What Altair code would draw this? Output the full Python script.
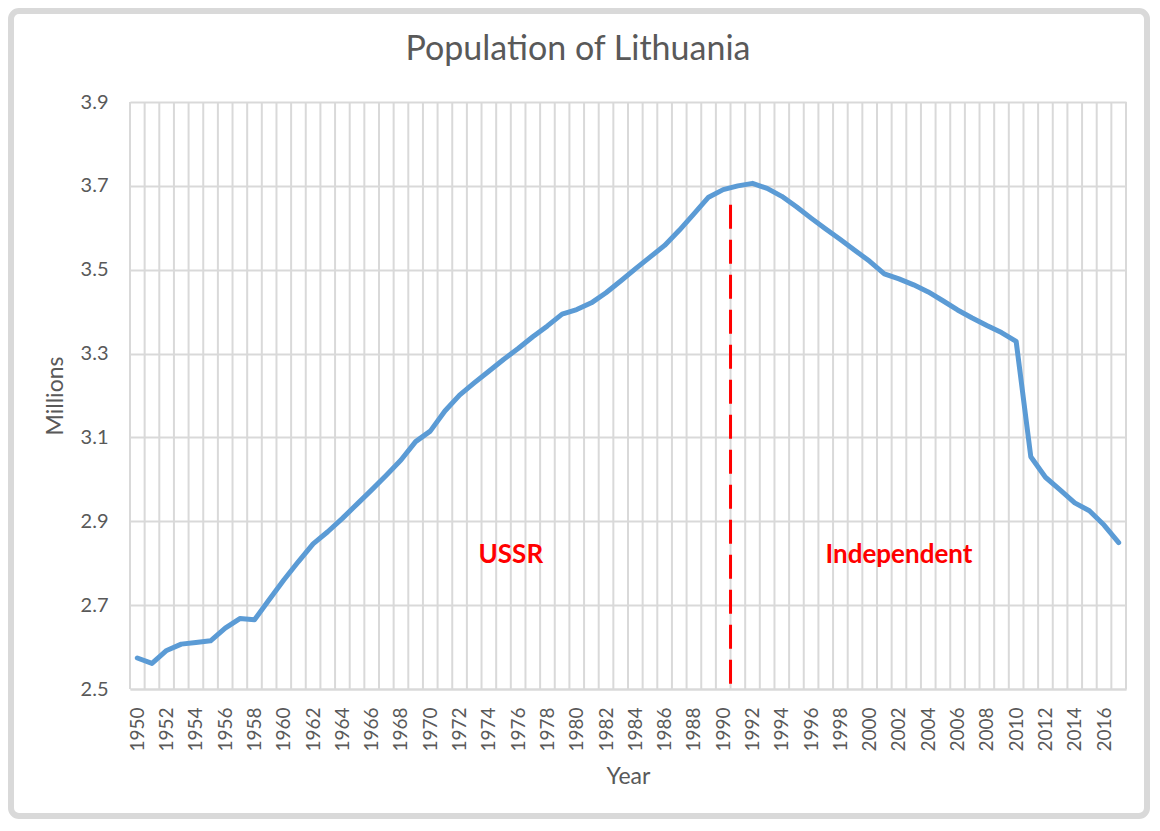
import altair as alt
import pandas as pd

# ---- data ----
years = list(range(1950, 2018))
population = [
    2.574, 2.561, 2.592, 2.607, 2.611, 2.615, 2.645, 2.668, 2.665, 2.713,
    2.760, 2.804, 2.846, 2.875, 2.907, 2.941, 2.975, 3.010, 3.046, 3.090,
    3.115, 3.163, 3.201, 3.230, 3.258, 3.286, 3.312, 3.340, 3.366, 3.394,
    3.405, 3.421, 3.445, 3.473, 3.502, 3.530, 3.558, 3.594, 3.633, 3.673,
    3.691, 3.700, 3.706, 3.694, 3.675, 3.650, 3.623, 3.597, 3.572, 3.546,
    3.520, 3.490, 3.478, 3.464, 3.447, 3.426, 3.404, 3.385, 3.367, 3.350,
    3.329, 3.054, 3.005, 2.975, 2.944, 2.925, 2.891, 2.849,
]
year_labels = list(range(1950, 2017, 2))
y_ticks = [2.5, 2.7, 2.9, 3.1, 3.3, 3.5, 3.7, 3.9]

era_text = ["USSR", "Independent"]
era_year = [1975.5, 2002.0]
era_value = [2.82, 2.82]

divider_year = [1990.5]
divider_top = [3.655]
divider_bottom = [2.5]

# ---- styling ----
FONT = "Lato"
GREY_TEXT = "#595959"
GRID = "#d9d9d9"
W, H = 996, 587
PAD = {"left": 122, "top": 94, "right": 24, "bottom": 130}

df = pd.DataFrame({"year": years, "pop": population})
bounds = pd.DataFrame({"year": [y - 0.5 for y in years] + [years[-1] + 0.5]})
eras = pd.DataFrame({"label": era_text, "year": era_year, "pop": era_value})
divider = pd.DataFrame({"year": divider_year, "pop": divider_top, "bottom": divider_bottom})

xscale = alt.Scale(domain=[years[0] - 0.5, years[-1] + 0.5], nice=False, zero=False)
yscale = alt.Scale(domain=[y_ticks[0], y_ticks[-1]], nice=False, zero=False)

xaxis = alt.Axis(
    title="Year",
    values=year_labels,
    format="d",
    labelAngle=270,
    grid=False,
    ticks=False,
    domain=True,
    domainColor=GRID,
    domainWidth=2,
    labelPadding=18,
    labelFontSize=19,
    labelColor=GREY_TEXT,
    labelFont=FONT,
    titleFont=FONT,
    titleFontSize=23,
    titleFontWeight="normal",
    titleColor=GREY_TEXT,
    titlePadding=14,
    labelOverlap=False,
    labelFlush=False,
)
yaxis = alt.Axis(
    title="Millions",
    values=y_ticks,
    format=".1f",
    grid=True,
    gridColor=GRID,
    gridWidth=2,
    ticks=False,
    domain=False,
    labelPadding=22,
    labelFontSize=20,
    labelColor=GREY_TEXT,
    labelFont=FONT,
    titleFont=FONT,
    titleFontSize=23,
    titleFontWeight="normal",
    titleColor=GREY_TEXT,
    titlePadding=13,
)

X = alt.X("year:Q", scale=xscale, axis=xaxis)
Y = alt.Y("pop:Q", scale=yscale, axis=yaxis)

frame = alt.Chart(alt.Data(values=[{}])).mark_rect(
    filled=False, stroke=GRID, strokeWidth=6, cornerRadius=8
).encode(
    x=alt.value(-PAD["left"] + 3),
    x2=alt.value(W + PAD["right"] - 3),
    y=alt.value(-PAD["top"] + 3),
    y2=alt.value(H + PAD["bottom"] - 3),
)

vgrid = alt.Chart(bounds).mark_rule(color=GRID, strokeWidth=2).encode(x=X)

line = alt.Chart(df).mark_line(
    color="#5B9BD5", strokeWidth=5, strokeCap="round", strokeJoin="round"
).encode(x=X, y=Y)

div_rule = alt.Chart(divider).mark_rule(
    color="#FF0000", strokeWidth=3, strokeDash=[24, 11]
).encode(x=X, y=Y, y2="bottom:Q")

era_labels = alt.Chart(eras).mark_text(
    color="#FF0000", fontWeight="bold", fontSize=26, font=FONT, baseline="middle", align="center"
).encode(x=X, y=Y, text="label:N")

chart = alt.layer(vgrid, line, div_rule, era_labels, frame).properties(
    width=W,
    height=H,
    padding=PAD,
    autosize=alt.AutoSizeParams(type="none"),
    background="white",
    title=alt.TitleParams(
        "Population of Lithuania",
        font=FONT,
        fontSize=34,
        fontWeight="normal",
        color=GREY_TEXT,
        anchor="middle",
        frame="group",
        baseline="alphabetic",
        offset=-86,
        dx=-50,
    ),
).configure_view(stroke=None)

chart.save("out.html", embed_options={"renderer": "svg", "actions": False})
